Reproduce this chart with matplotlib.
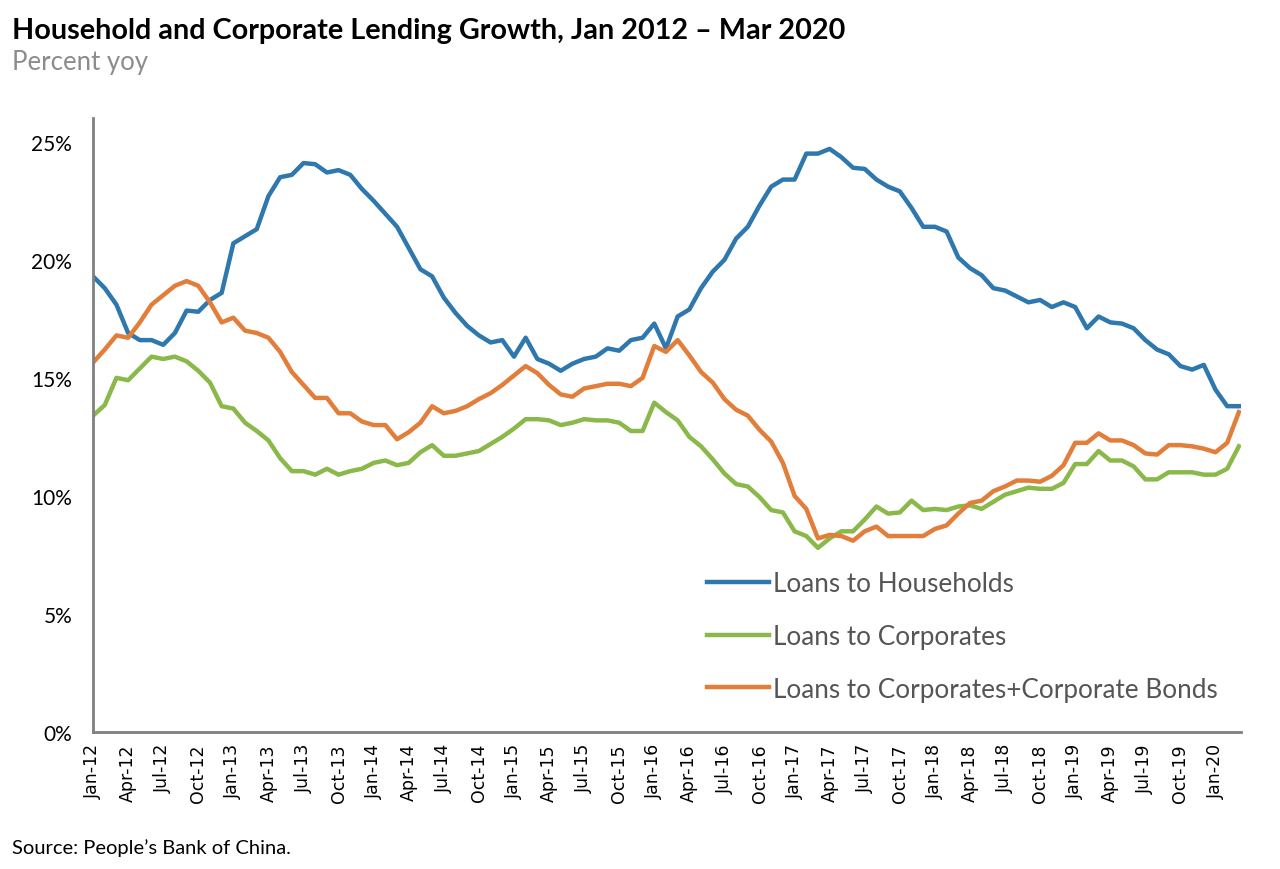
import matplotlib
matplotlib.use("Agg")
import matplotlib.pyplot as plt

# monthly, Jan 2012 .. Mar 2020, percent yoy
households = [
    19.3, 18.8, 18.1, 16.9, 16.6, 16.6, 16.4, 16.9, 17.85, 17.8, 18.3, 18.6,
    20.7, 21.0, 21.3, 22.7, 23.5, 23.6, 24.1, 24.05, 23.7, 23.8, 23.6, 23.0,
    22.5, 21.95, 21.4, 20.5, 19.6, 19.3, 18.4, 17.75, 17.2, 16.8, 16.5, 16.6,
    15.9, 16.7, 15.8, 15.6, 15.3, 15.6, 15.8, 15.9, 16.25, 16.15, 16.6, 16.7,
    17.3, 16.25, 17.6, 17.9, 18.8, 19.5, 20.0, 20.9, 21.4, 22.3, 23.1, 23.4,
    23.4, 24.5, 24.5, 24.7, 24.35, 23.9, 23.85, 23.4, 23.1, 22.9, 22.2, 21.4,
    21.4, 21.2, 20.1, 19.65, 19.35, 18.8, 18.7, 18.45, 18.2, 18.3, 18.0, 18.2,
    18.0, 17.1, 17.6, 17.35, 17.3, 17.1, 16.6, 16.2, 16.0, 15.5, 15.35, 15.55,
    14.5, 13.8, 13.8,
]
corporates = [
    13.4, 13.85, 15.0, 14.9, 15.4, 15.9, 15.8, 15.9, 15.7, 15.3, 14.8, 13.8,
    13.7, 13.1, 12.75, 12.35, 11.6, 11.05, 11.05, 10.9, 11.15, 10.9, 11.05, 11.15,
    11.4, 11.5, 11.3, 11.4, 11.85, 12.15, 11.7, 11.7, 11.8, 11.9, 12.2, 12.5,
    12.85, 13.25, 13.25, 13.2, 13.0, 13.1, 13.25, 13.2, 13.2, 13.1, 12.75, 12.75,
    13.95, 13.55, 13.2, 12.5, 12.1, 11.55, 10.95, 10.5, 10.4, 9.95, 9.4, 9.3,
    8.5, 8.3, 7.8, 8.2, 8.5, 8.5, 9.0, 9.55, 9.25, 9.3, 9.8, 9.4,
    9.45, 9.4, 9.55, 9.6, 9.45, 9.75, 10.05, 10.2, 10.35, 10.3, 10.3, 10.55,
    11.35, 11.35, 11.9, 11.5, 11.5, 11.25, 10.7, 10.7, 11.0, 11.0, 11.0, 10.9,
    10.9, 11.15, 12.1,
]
corp_bonds = [
    15.65, 16.2, 16.8, 16.7, 17.35, 18.1, 18.5, 18.9, 19.1, 18.9, 18.2, 17.35,
    17.55, 17.0, 16.9, 16.7, 16.1, 15.25, 14.7, 14.15, 14.15, 13.5, 13.5, 13.15,
    13.0, 13.0, 12.4, 12.7, 13.1, 13.8, 13.5, 13.6, 13.8, 14.1, 14.35, 14.7,
    15.1, 15.5, 15.2, 14.7, 14.3, 14.2, 14.55, 14.65, 14.75, 14.75, 14.65, 15.0,
    16.35, 16.1, 16.6, 15.95, 15.25, 14.8, 14.1, 13.65, 13.4, 12.8, 12.3, 11.4,
    10.0, 9.45, 8.2, 8.35, 8.3, 8.1, 8.5, 8.7, 8.3, 8.3, 8.3, 8.3,
    8.6, 8.75, 9.25, 9.7, 9.8, 10.2, 10.4, 10.65, 10.65, 10.6, 10.85, 11.3,
    12.25, 12.25, 12.65, 12.35, 12.35, 12.15, 11.8, 11.75, 12.15, 12.15, 12.1, 12.0,
    11.85, 12.25, 13.55,
]

months = ["Jan", "Feb", "Mar", "Apr", "May", "Jun", "Jul", "Aug", "Sep", "Oct", "Nov", "Dec"]
dates = ["%s-%02d" % (months[k % 12], 12 + k // 12) for k in range(len(households))]

text_font = ["Lato", "DejaVu Sans"]

fig = plt.figure(figsize=(12.8, 8.7), dpi=100)
ax = fig.add_axes([0.0727, 0.1575, 0.897, 0.7055])

x = list(range(len(dates)))
ax.plot(x, households, color="#2f78ad", lw=3.2, label="Loans to Households")
ax.plot(x, corporates, color="#8bb84a", lw=3.2, label="Loans to Corporates")
ax.plot(x, corp_bonds, color="#e27d3a", lw=3.2, label="Loans to Corporates+Corporate Bonds")

ax.set_xlim(0, len(dates) - 0.8)
ax.set_ylim(0, 26)
ax.set_yticks([0, 5, 10, 15, 20, 25])
ax.set_yticklabels(["%d%%" % v for v in [0, 5, 10, 15, 20, 25]], fontsize=15, family=text_font)
ax.set_xticks(x[::3])
ax.set_xticklabels(dates[::3], rotation=90, fontsize=12.5, family="DejaVu Sans")
ax.tick_params(axis="both", length=0, colors="black")
ax.tick_params(axis="y", pad=15)
ax.tick_params(axis="x", pad=8)

for s in ["top", "right"]:
    ax.spines[s].set_visible(False)
for s in ["left", "bottom"]:
    ax.spines[s].set_color("#808080")
    ax.spines[s].set_linewidth(2)

leg = ax.legend(loc="upper left", bbox_to_anchor=(0.514, 0.301), frameon=False,
                prop={"family": text_font, "size": 18.8}, handlelength=2.4,
                handletextpad=0.15, labelspacing=1.07)
for t in leg.get_texts():
    t.set_color("#555555")

fig.text(0.009, 0.955, "Household and Corporate Lending Growth, Jan 2012 \u2013 Mar 2020",
         fontsize=20.7, fontweight="bold", family=text_font, va="baseline")
fig.text(0.009, 0.92, "Percent yoy", fontsize=18.5, color="#8c8c8c", family=text_font, va="baseline")
fig.text(0.009, 0.018, "Source: People\u2019s Bank of China.", fontsize=14.5, family=text_font, va="baseline")

fig.savefig("out.png", dpi=100)
